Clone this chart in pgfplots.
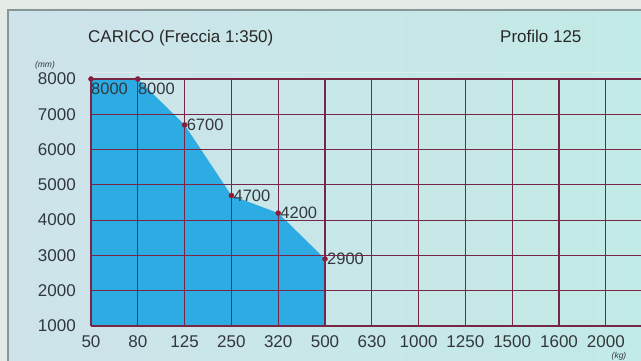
\documentclass[border=0pt]{standalone}
\usepackage{fontspec}
\setmainfont{Liberation Sans}
\usepackage{pgfplots}
\pgfplotsset{compat=1.18}
\definecolor{outercol}{RGB}{228,235,231}
\definecolor{bgleft}{RGB}{206,227,234}
\definecolor{bgright}{RGB}{194,234,230}
\definecolor{framecol}{RGB}{135,150,150}
\definecolor{gridcol}{RGB}{120,38,70}
\definecolor{bluefill}{RGB}{44,172,226}
\definecolor{markred}{RGB}{150,20,45}
\definecolor{txtcol}{RGB}{50,55,62}
\definecolor{titlecol}{RGB}{40,40,40}
\begin{document}
\begin{tikzpicture}[x=1pt,y=1pt]
\useasboundingbox (0,0) rectangle (641,361);
\fill[outercol] (0,0) rectangle (641,361);
\shade[left color=bgleft, right color=bgright] (8,0) rectangle (641,351);
\draw[framecol, line width=1.2pt] (8,0) -- (8,351) -- (641,351);
\draw[white, opacity=0.3, line width=1pt] (90,288.5) -- (641,288.5);
\node[anchor=base west, inner sep=0, text=titlecol, font=\fontsize{17}{20}\selectfont] at (88,318) {CARICO (Freccia 1:350)};
\node[anchor=base west, inner sep=0, text=titlecol, font=\fontsize{17}{20}\selectfont] at (500,318) {Profilo 125};
\node[anchor=base, inner sep=0, text=txtcol, font=\fontsize{8.5}{9}\itshape] at (45,293) {(mm)};
\node[inner sep=0, text=txtcol, font=\fontsize{8.5}{9}\itshape] at (619,5) {(kg)};
\begin{axis}[
  at={(91pt,35pt)}, anchor=south west,
  scale only axis, width=550pt, height=247pt,
  xmin=0, xmax=11.752, ymin=1000, ymax=8000,
  xtick={0,...,11},
  xticklabels={50,80,125,250,320,500,630,1000,1250,1500,1600,2000},
  ytick={1000,2000,3000,4000,5000,6000,7000,8000},
  /pgf/number format/set thousands separator={},
  /pgf/number format/assume math mode=true,
  grid=major,
  major grid style={gridcol, line width=1.2pt},
  axis line style={draw=none},
  tick style={draw=none},
  axis on top,
  clip mode=individual,
  ticklabel style={text=txtcol, font=\fontsize{17}{19}\selectfont},
  xticklabel style={anchor=north, yshift=-6pt},
  yticklabel style={anchor=east, xshift=-15pt, inner sep=0pt},
]
\addplot[fill=bluefill, draw=none] coordinates {(0,8000) (1,8000) (2,6700) (3,4700) (4,4200) (5,2900)} \closedcycle;
\addplot[only marks, mark=*, mark size=2.5pt, color=markred,
  nodes near coords, point meta=explicit symbolic,
  every node near coord/.append style={anchor=north west, text=txtcol, font=\fontsize{16.5}{18}\selectfont, inner sep=1pt, xshift=-1pt, yshift=-3pt}]
  coordinates {(0,8000)[8000] (1,8000)[8000]};
\addplot[only marks, mark=*, mark size=2.5pt, color=markred,
  nodes near coords, point meta=explicit symbolic,
  every node near coord/.append style={anchor=west, text=txtcol, font=\fontsize{16.5}{18}\selectfont, inner sep=1pt, xshift=1pt}]
  coordinates {(2,6700)[6700] (3,4700)[4700] (4,4200)[4200] (5,2900)[2900]};
\end{axis}
\end{tikzpicture}
\end{document}
